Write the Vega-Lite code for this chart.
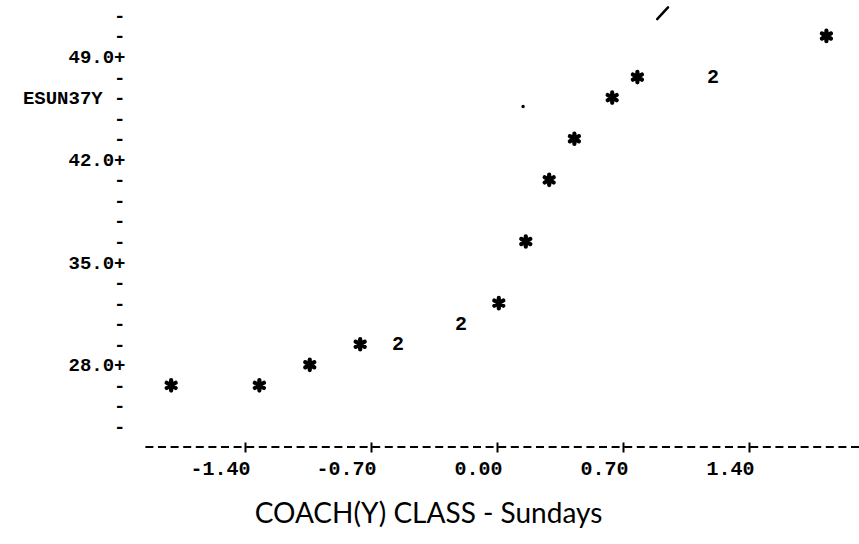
{
  "$schema": "https://vega.github.io/schema/vega-lite/v6.json",
  "autosize": "none",
  "padding": {"left": 142, "top": 0, "right": 0, "bottom": 97},
  "width": 717,
  "height": 447,
  "background": "white",
  "config": {
    "view": {"stroke": null},
    "axis": {"grid": false, "labelColor": "black", "tickColor": "black", "titleColor": "black", "labelOverlap": false}
  },
  "datasets": {
    "obs": [
      {"x": -1.81, "y": 26.6, "n": 1},
      {"x": -1.32, "y": 26.6, "n": 1},
      {"x": -1.04, "y": 28.0, "n": 1},
      {"x": -0.76, "y": 29.4, "n": 1},
      {"x": -0.55, "y": 29.4, "n": 2},
      {"x": -0.20, "y": 30.8, "n": 2},
      {"x": 0.01, "y": 32.2, "n": 1},
      {"x": 0.16, "y": 36.4, "n": 1},
      {"x": 0.29, "y": 40.6, "n": 1},
      {"x": 0.43, "y": 43.4, "n": 1},
      {"x": 0.64, "y": 46.2, "n": 1},
      {"x": 0.78, "y": 47.6, "n": 1},
      {"x": 1.20, "y": 47.6, "n": 2},
      {"x": 1.83, "y": 50.4, "n": 1}
    ],
    "pen_dot": [{"x": 0.145, "y": 45.6}],
    "pen_stroke": [{"x": 0.89, "x2": 0.95, "y": 51.55, "y2": 52.35}]
  },
  "layer": [
    {
      "data": {"values": [{}]},
      "mark": {"type": "rule", "color": "black", "strokeWidth": 2, "strokeDash": [8, 4.6]},
      "encoding": {
        "y": {"datum": 22.4, "type": "quantitative"}
      }
    },
    {
      "data": {"name": "obs"},
      "transform": [{"filter": "datum.n == 1"}],
      "mark": {
        "type": "point",
        "shape": "M0,-1L0,1M-0.866,-0.5L0.866,0.5M-0.866,0.5L0.866,-0.5",
        "size": 110,
        "filled": false,
        "stroke": "black",
        "strokeWidth": 4.2,
        "strokeCap": "round",
        "opacity": 1
      },
      "encoding": {
        "x": {
          "field": "x",
          "type": "quantitative",
          "scale": {"domain": [-1.972, 2.011], "nice": false, "zero": false},
          "axis": {
            "values": [-1.4, -0.7, 0, 0.7, 1.4],
            "tickCount": 10,
            "labelExpr": "(datum.value < 0 ? '-' : '') + format(abs(datum.value), '.2f')",
            "domain": false,
            "offset": -5,
            "tickSize": 10,
            "tickWidth": 2,
            "labelPadding": 6,
            "labelAlign": "right",
            "labelOffset": 5,
            "labelFont": "Liberation Mono",
            "labelFontWeight": "bold",
            "labelFontSize": 20,
            "labelOverlap": false,
            "labelFlush": false,
            "title": "COACH(Y) CLASS - Sundays",
            "titleFont": "Lato",
            "titleFontWeight": "normal",
            "titleFontSize": 28,
            "titleAlign": "center",
            "titleBaseline": "alphabetic",
            "titleX": 286,
            "titleY": 80
          }
        },
        "y": {
          "field": "y",
          "type": "quantitative",
          "scale": {"domain": [22.4, 52.85], "nice": false, "zero": false},
          "axis": {
            "values": [23.8, 25.2, 26.6, 28, 29.4, 30.8, 32.2, 33.6, 35, 36.4, 37.8, 39.2, 40.6, 42, 43.4, 44.8, 46.2, 47.6, 49, 50.4, 51.8],
            "tickCount": 40,
            "labelExpr": "abs(datum.value - 46.2) < 0.01 ? 'ESUN37Y -' : (abs(datum.value % 7) < 0.01 ? format(datum.value, '.1f') + '+' : '-')",
            "domain": false,
            "ticks": false,
            "labelPadding": 17,
            "labelAlign": "right",
            "labelBaseline": "middle",
            "labelFont": "Liberation Mono",
            "labelFontWeight": "bold",
            "labelFontSize": 19,
            "labelOverlap": false,
            "labelFlush": false,
            "title": null
          }
        }
      }
    },
    {
      "data": {"name": "obs"},
      "transform": [{"filter": "datum.n == 2"}],
      "mark": {"type": "text", "font": "Liberation Mono", "fontWeight": "bold", "fontSize": 20, "color": "black", "align": "center", "baseline": "middle"},
      "encoding": {
        "x": {"field": "x", "type": "quantitative"},
        "y": {"field": "y", "type": "quantitative"},
        "text": {"field": "n", "type": "nominal"}
      }
    },
    {
      "data": {"name": "pen_dot"},
      "mark": {"type": "point", "shape": "circle", "filled": true, "size": 12, "color": "black", "opacity": 1},
      "encoding": {
        "x": {"field": "x", "type": "quantitative"},
        "y": {"field": "y", "type": "quantitative"}
      }
    },
    {
      "data": {"name": "pen_stroke"},
      "mark": {"type": "rule", "color": "black", "strokeWidth": 2.5, "strokeCap": "round"},
      "encoding": {
        "x": {"field": "x", "type": "quantitative"},
        "x2": {"field": "x2"},
        "y": {"field": "y", "type": "quantitative"},
        "y2": {"field": "y2"}
      }
    }
  ]
}
